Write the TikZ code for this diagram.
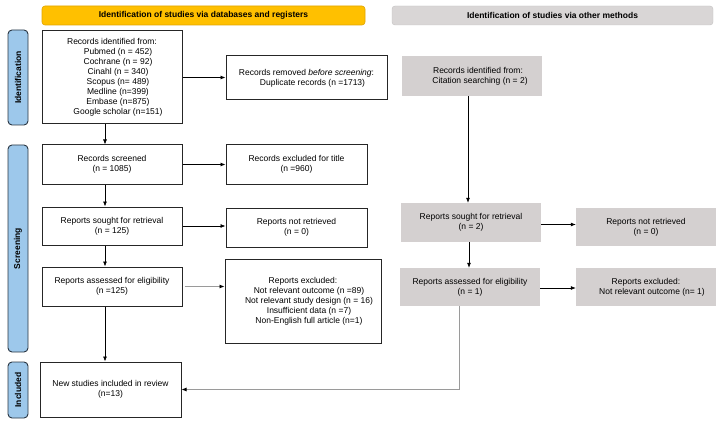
\documentclass[tikz,border=0pt]{standalone}
\usepackage{fontspec}
\setmainfont{Liberation Sans}
\usetikzlibrary{arrows.meta,calc}
\definecolor{hdrorange}{HTML}{FFC000}
\definecolor{hdrorangeb}{HTML}{E0A400}
\definecolor{boxgray}{HTML}{D4D0D0}
\definecolor{hdrgray}{HTML}{D9D6D6}
\definecolor{sideblue}{HTML}{9DC8EB}
\definecolor{sideborder}{HTML}{2A3642}
\definecolor{lgray}{HTML}{9A9A9A}
\newcommand{\ind}{\hspace*{12pt}}
\tikzset{
  every node/.style={font=\fontsize{8.5}{10}\selectfont},
  wbox/.style={draw=black!85, line width=1pt, fill=white, align=center, inner sep=2pt},
  gbox/.style={fill=boxgray, align=center, inner sep=2pt},
  hdr/.style={rounded corners=3pt, align=center, font=\fontsize{8.5}{10}\selectfont\bfseries, minimum height=19pt},
  side/.style={draw=sideborder, line width=0.9pt, fill=sideblue, rounded corners=4pt, rotate=90,
     minimum height=20pt, font=\fontsize{8.5}{10}\selectfont\bfseries, inner sep=1pt},
  arr/.style={line width=0.7pt, -{Latex[length=5pt,width=4pt,color=black]}},
}
\begin{document}
\begin{tikzpicture}[x=1pt,y=-1pt]
\useasboundingbox (0,0) rectangle (724,428);
% headers
\node[hdr, fill=hdrorange, draw=hdrorangeb, line width=0.6pt, minimum width=323pt] (h1) at (203.5,15.5) {Identification of studies via databases and registers};
\node[hdr, fill=hdrgray, draw=hdrgray!90!black, line width=0.4pt, minimum width=321pt] (h2) at (552.5,15.5) {Identification of studies via other methods};
% side labels
\node[side, minimum width=95pt] (s1) at (18,77.5) {Identification};
\node[side, minimum width=207pt] (s2) at (18,248.5) {Screening};
\node[side, minimum width=56pt] (s3) at (18,390) {Included};
% left column
\node[wbox, minimum width=140pt, minimum height=93pt] (A) at (112,77.5) {Records identified from:\\
\ind Pubmed (n = 452)\\ \ind Cochrane (n = 92)\\ \ind Cinahl (n = 340)\\ \ind Scopus (n= 489)\\
\ind Medline (n=399)\\ \ind Embase (n=875)\\ \ind Google scholar (n=151)};
\node[wbox, minimum width=161pt, minimum height=44pt] (B) at (306.5,78) {Records removed \emph{before screening}:\\ \ind Duplicate records (n =1713)};
\node[wbox, minimum width=140pt, minimum height=39pt] (C) at (112,164.5) {Records screened\\(n = 1085)};
\node[wbox, minimum width=141pt, minimum height=39pt] (D) at (296.5,164.5) {Records excluded for title\\(n =960)};
\node[wbox, minimum width=140pt, minimum height=38pt] (E) at (112,226) {Reports sought for retrieval\\(n = 125)};
\node[wbox, minimum width=141pt, minimum height=39pt] (F) at (296.5,227.5) {Reports not retrieved\\(n = 0)};
\node[wbox, minimum width=140pt, minimum height=39pt] (G) at (112,286.5) {Reports assessed for eligibility\\(n =125)};
\node[wbox, minimum width=156pt, minimum height=84pt] (H) at (303,301) {Reports excluded:\\
\ind Not relevant outcome (n =89)\\ \ind Not relevant study design (n = 16)\\ \ind Insufficient data (n =7)\\ \ind Non-English full article (n=1)};
\node[wbox, minimum width=141pt, minimum height=55pt] (I) at (110.5,389.5) {New studies included in review\\(n=13)};
% right column
\node[gbox, minimum width=140pt, minimum height=40pt] (J) at (472,76) {\ind Records identified from:\\ \hspace*{16pt}Citation searching (n = 2)};
\node[gbox, minimum width=140pt, minimum height=39pt] (K) at (471,222.5) {Reports sought for retrieval\\(n = 2)};
\node[gbox, minimum width=140pt, minimum height=38pt] (L) at (646,227) {Reports not retrieved\\(n = 0)};
\node[gbox, minimum width=140pt, minimum height=38pt] (M) at (470,287) {Reports assessed for eligibility\\(n = 1)};
\node[gbox, minimum width=140pt, minimum height=38pt] (N) at (646,287) {Reports excluded:\\ \ind Not relevant outcome (n= 1)};
% vertical arrows left
\draw[arr] ([xshift=-7pt]A.south) -- ([xshift=-7pt]A.south |- C.north);
\draw[arr] ([xshift=-7pt]C.south) -- ([xshift=-7pt]C.south |- E.north);
\draw[arr] ([xshift=-7pt]E.south) -- ([xshift=-7pt]E.south |- G.north);
\draw[arr] ([xshift=-7pt]G.south) -- ([xshift=-7pt]G.south |- I.north);
% horizontal arrows left
\draw[arr] (A.east) -- (A.east -| B.west);
\draw[arr] (C.east) -- (C.east -| D.west);
\draw[arr] (E.east) -- (E.east -| F.west);
\draw[arr, draw=lgray] ([xshift=2pt]G.east) -- (G.east -| H.west);
% right column arrows
\draw[arr] ([xshift=-4pt]J.south) -- ([xshift=-4pt]J.south |- K.north);
\draw[arr] ([xshift=-2pt]K.south) -- ([xshift=-2pt]K.south |- M.north);
\draw[arr] ([yshift=-2pt]K.east) -- ([yshift=-2pt]K.east -| L.west);
\draw[arr] ([yshift=-1pt]M.east) -- ([yshift=-1pt]M.east -| N.west);
\draw[arr, draw=lgray] ([xshift=-11pt]M.south) |- (I.east);
\end{tikzpicture}
\end{document}
